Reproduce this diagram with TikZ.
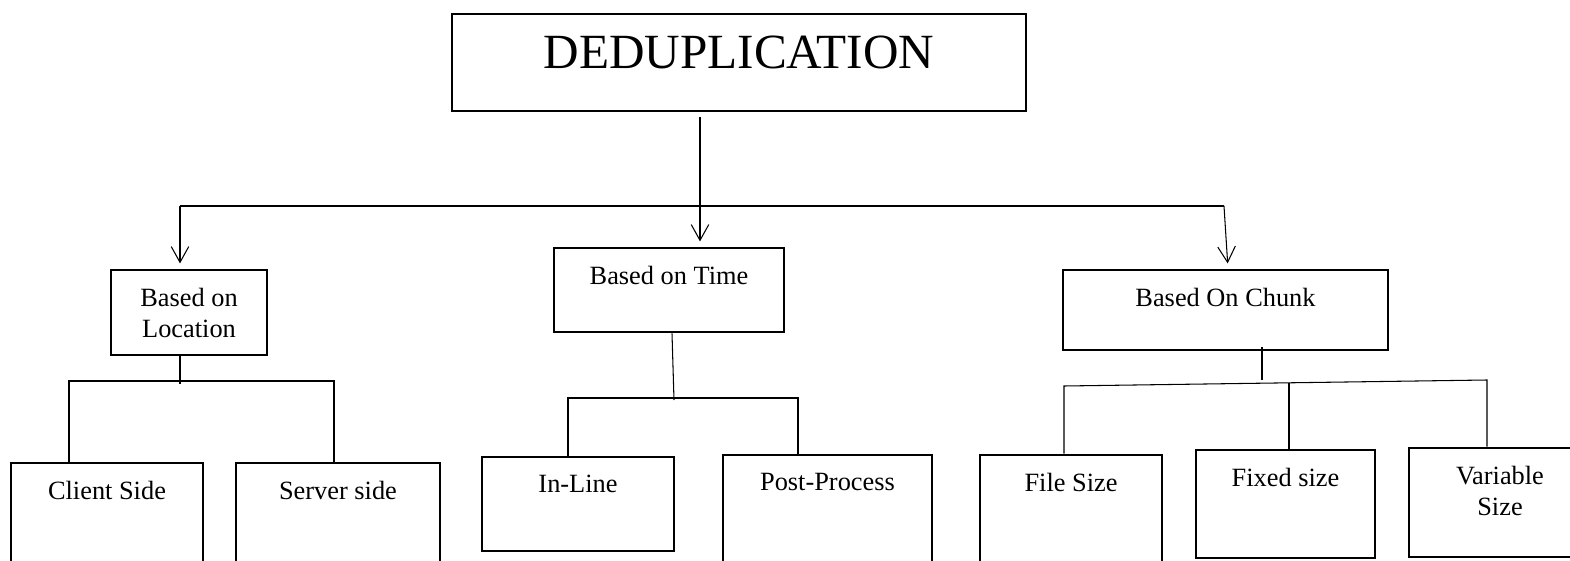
\documentclass[tikz,border=0pt]{standalone}
\usepackage{fontspec}
\setmainfont{Liberation Serif}
\usetikzlibrary{
  	positioning,
  	arrows.meta,
  	calc
  }
\tikzstyle{box}=[draw,rectangle,line width=1.5pt,inner sep=0pt]
\tikzstyle{lbl}=[anchor=north,align=center,inner sep=0pt,yshift=-10.8pt,font=\fontsize{15}{17.5}\selectfont]
\tikzstyle{title}=[anchor=north,inner sep=0pt,yshift=-12.9pt,font=\fontsize{28}{32}\selectfont]
\tikzstyle{link}=[line width=0.6pt]
\tikzstyle{arr}=[link,-{Straight Barb[length=9pt,width=10pt]},shorten >=3pt]

\begin{document}
\begin{tikzpicture}[x=0.02cm,y=-0.02cm]
  \useasboundingbox (0,0) rectangle (1570,561);
  \node[box,minimum width=11.48cm,minimum height=1.94cm,
    label={[title]north:DEDUPLICATION}] (dedup) at (739,62.5) {};
%
  \node[box,minimum width=3.12cm,minimum height=1.7cm,
    label={[lbl]north:Based on\\Location}] (loc) at (189,312.5) {};
  \node[box,minimum width=4.6cm,minimum height=1.68cm,
    label={[lbl]north:Based on Time}] (time) at (669,290) {};
  \node[box,minimum width=6.5cm,minimum height=1.6cm,
    label={[lbl]north:Based On Chunk}] (chunk) at (1225.5,310) {};
%
  \node[box,minimum width=3.84cm,minimum height=2.06cm,
    label={[lbl]north:Client Side}] (client) at (107,514.5) {};
  \node[box,minimum width=4.08cm,minimum height=2.06cm,
    label={[lbl]north:Server side}] (server) at (338,514.5) {};
  \node[box,minimum width=3.84cm,minimum height=1.88cm,
    label={[lbl]north:In-Line}] (inline) at (578,504) {};
  \node[box,minimum width=4.18cm,minimum height=2.22cm,
    label={[lbl]north:Post-Process}] (post) at (827.5,510.5) {};
  \node[box,minimum width=3.64cm,minimum height=2.22cm,
    label={[lbl]north:File Size}] (file) at (1071,510.5) {};
  \node[box,minimum width=3.58cm,minimum height=2.16cm,
    label={[lbl]north:Fixed size}] (fixed) at (1285.5,504) {};
  \node[box,minimum width=3.64cm,minimum height=2.18cm,
    label={[lbl]north:Variable\\Size}] (var) at (1500,502.5) {};
%
  \coordinate (d0) at (700,117);
  \coordinate (bl) at (180,206);
  \coordinate (br) at (1224,206);
  \draw[arr] (d0) -- (d0 |- time.north);
  \draw[link] (bl) -- (br);
  \draw[arr] (bl) -- (bl |- loc.north);
  \draw[arr] (br) -- ([xshift=0.05cm]chunk.north);
%
  \coordinate (la) at (69,381);
  \coordinate (lb) at (334,381);
  \draw[link] (bl |- loc.south) -- ++(0,28);
  \draw[link] (client.north -| la) -- (la) -- (lb) -- (lb |- server.north);
%
  \coordinate (ta) at (568,398);
  \coordinate (tb) at (798,398);
  \draw[link] ([xshift=0.06cm]time.south) -- (674,400);
  \draw[link] (inline.north -| ta) -- (ta) -- (tb) -- (tb |- post.north);
%
  \coordinate (c0) at (1262,347);
  \coordinate (ca) at (1064,386);
  \coordinate (cm) at (1289,383);
  \coordinate (cb) at (1487,380);
  \draw[link] (c0) -- ++(0,33);
  \draw[link] (file.north -| ca) -- (ca) -- (cb) -- (cb |- var.north);
  \draw[link] (cm) -- (cm |- fixed.north);
\end{tikzpicture}
\end{document}
